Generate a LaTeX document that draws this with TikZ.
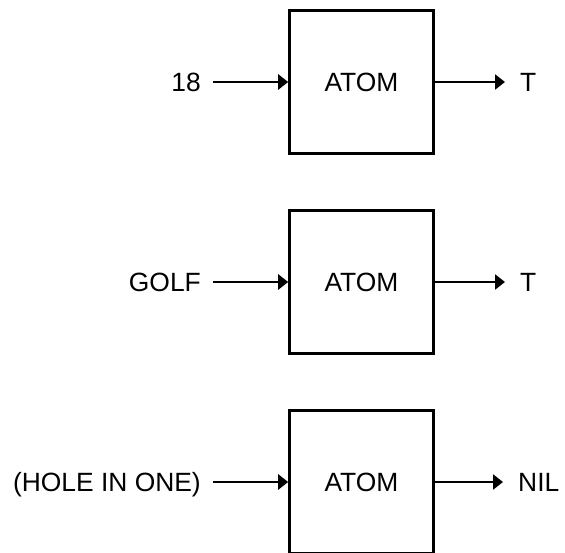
\documentclass[tikz,border=0pt]{standalone}
\usepackage{fontspec}
\setmainfont{Liberation Sans}
\usetikzlibrary{arrows.meta}

\tikzset{
  atombox/.style={draw, line width=2.6pt, minimum width=144pt, minimum height=143pt, inner sep=0pt, font=\fontsize{26.4}{32}\selectfont},
  inlabel/.style={anchor=east, inner xsep=12pt, inner ysep=0pt, text height=18.9pt, text depth=0pt, font=\fontsize{26.4}{32}\selectfont},
  outlabel/.style={anchor=west, inner xsep=15pt, inner ysep=0pt, text height=18.9pt, text depth=0pt, font=\fontsize{26.4}{32}\selectfont},
  flow/.style={line width=2.4pt, -{Triangle[length=10pt,width=15pt]}}
}

\begin{document}
\begin{tikzpicture}[x=1pt, y=-1pt]

  %% ════ 方框 ════
  \node[atombox] (atom1) at (361.5,82.0) {ATOM};
  \node[atombox] (atom2) at (361.5,282.0) {ATOM};
  \node[atombox] (atom3) at (361.5,482.0) {ATOM};

  %% ════ 输入 / 输出 ════
  \node[inlabel] (arg1) at (213.0,82.0) {18};
  \node[inlabel] (arg2) at (213.0,282.0) {GOLF};
  \node[inlabel] (arg3) at (213.0,482.0) {(HOLE IN ONE)};
  \node[outlabel] (res1) at (505.0,82.0) {T};
  \node[outlabel] (res2) at (505.0,282.0) {T};
  \node[outlabel] (res3) at (503.0,482.0) {NIL};

  %% ════ 箭头 ════
  \draw[flow] (arg1) -- (atom1);
  \draw[flow] (arg2) -- (atom2);
  \draw[flow] (arg3) -- (atom3);
  \draw[flow] (atom1) -- (res1);
  \draw[flow] (atom2) -- (res2);
  \draw[flow] (atom3) -- (res3);

  % 钉死画布
  \pgfresetboundingbox
  \path[use as bounding box] (0,0) rectangle (565,552);
\end{tikzpicture}
\end{document}
